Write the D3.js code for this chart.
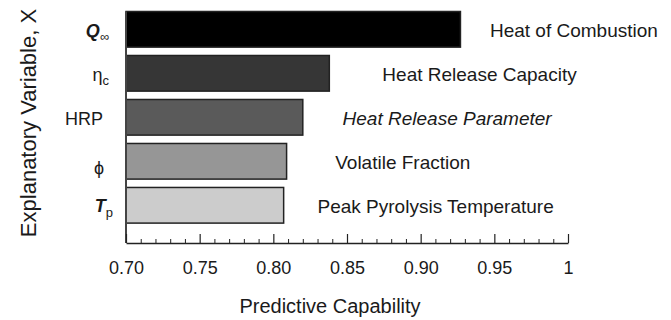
<!DOCTYPE html>
<html>
<head>
<meta charset="utf-8">
<script src="https://cdn.jsdelivr.net/npm/d3@7"></script>
<style>
  body { margin: 0; background: #fff; }
  svg { display: block; font-family: Arial, "Liberation Sans", sans-serif; }
</style>
</head>
<body>
<div id="chart"></div>
<script>
const keys = ["Q", "eta", "HRP", "phi", "Tp"];
const values = [0.927, 0.838, 0.820, 0.809, 0.807];
const names = ["Heat of Combustion", "Heat Release Capacity", "Heat Release Parameter", "Volatile Fraction", "Peak Pyrolysis Temperature"];
const labelAt = [0.947, 0.874, 0.847, 0.842, 0.830];
const fills = ["#000000", "#363636", "#5a5a5a", "#969696", "#cccccc"];
const tickValues = [0.70, 0.75, 0.80, 0.85, 0.90, 0.95, 1];
const tickLabels = ["0.70", "0.75", "0.80", "0.85", "0.90", "0.95", "1"];

const width = 671;
const height = 320;

const svg = d3.select("#chart")
  .append("svg")
  .attr("width", width)
  .attr("height", height);

const x = d3.scaleLinear()
  .domain([0.7, 1])
  .range([126, 568]);

const y = d3.scaleBand()
  .domain(keys)
  .range([7.1, 227.5])
  .paddingInner(0.19)
  .paddingOuter(0.1);

const axisY = 243;

// bars
svg.append("g")
  .selectAll("rect")
  .data(keys)
  .join("rect")
    .attr("x", x(0.7))
    .attr("y", d => y(d))
    .attr("width", (d, i) => x(values[i]) - x(0.7))
    .attr("height", y.bandwidth())
    .attr("fill", (d, i) => fills[i])
    .attr("stroke", "#222")
    .attr("stroke-width", 1.5);

// bar names
svg.append("g")
  .attr("font-size", 19)
  .attr("fill", "#1a1a1a")
  .selectAll("text")
  .data(keys)
  .join("text")
    .attr("x", (d, i) => x(labelAt[i]))
    .attr("y", d => y(d) + y.bandwidth() / 2)
    .attr("dy", "0.4em")
    .attr("font-style", d => d === "HRP" ? "italic" : null)
    .text((d, i) => names[i]);

// variable symbols
const sym = svg.append("g")
  .attr("font-size", 18)
  .attr("fill", "#1a1a1a")
  .attr("text-anchor", "end")
  .selectAll("text")
  .data(keys)
  .join("text")
    .attr("x", 109)
    .attr("y", d => y(d) + y.bandwidth() / 2)
    .attr("dy", d => d === "phi" ? "0.7em" : "0.4em");

sym.each(function(d) {
  const t = d3.select(this);
  if (d === "Q") {
    t.append("tspan").attr("font-style", "italic").attr("font-weight", "bold").text("Q");
    t.append("tspan").attr("font-size", 13).attr("font-style", "italic").attr("dy", 4).text("\u221E");
  } else if (d === "eta") {
    t.append("tspan").text("\u03B7");
    t.append("tspan").attr("font-size", 13).attr("dy", 4).text("c");
  } else if (d === "HRP") {
    t.attr("x", 103).text("HRP");
  } else if (d === "phi") {
    t.attr("x", 104).text("\u03D5");
  } else {
    t.attr("x", 113);
    t.append("tspan").attr("font-style", "italic").attr("font-weight", "bold").text("T");
    t.append("tspan").attr("font-size", 13).attr("dy", 5).text("p");
  }
});

// left axis line
svg.append("line")
  .attr("x1", x(0.7)).attr("x2", x(0.7))
  .attr("y1", y(keys[0])).attr("y2", axisY)
  .attr("stroke", "#444")
  .attr("stroke-width", 2);

// minor ticks
svg.append("g")
  .attr("transform", `translate(0,${axisY})`)
  .call(d3.axisBottom(x)
    .tickValues(d3.range(71, 100).map(v => v / 100).filter(v => Math.round(v * 100) % 5 !== 0))
    .tickSizeInner(-4)
    .tickSizeOuter(0)
    .tickFormat(""))
  .call(g => g.select(".domain").remove())
  .call(g => g.selectAll("line").attr("stroke", "#222").attr("stroke-width", 1));

// major ticks and labels
svg.append("g")
  .attr("transform", `translate(0,${axisY})`)
  .call(d3.axisBottom(x)
    .tickValues(tickValues)
    .tickSizeInner(-9)
    .tickSizeOuter(0)
    .tickPadding(18)
    .tickFormat((d, i) => tickLabels[i]))
  .call(g => g.select(".domain").attr("stroke", "#222").attr("stroke-width", 1.5))
  .call(g => g.selectAll("line").attr("stroke", "#222").attr("stroke-width", 1.2))
  .call(g => g.selectAll("text")
    .attr("font-size", 18)
    .attr("font-family", "Arial, 'Liberation Sans', sans-serif")
    .attr("fill", "#1a1a1a"));

// axis titles
svg.append("text")
  .attr("x", 330)
  .attr("y", 313)
  .attr("text-anchor", "middle")
  .attr("font-size", 20)
  .attr("fill", "#1a1a1a")
  .text("Predictive Capability");

svg.append("text")
  .attr("transform", "translate(36,123) rotate(-90)")
  .attr("text-anchor", "middle")
  .attr("font-size", 22)
  .attr("fill", "#1a1a1a")
  .text("Explanatory Variable, X");
</script>
</body>
</html>
